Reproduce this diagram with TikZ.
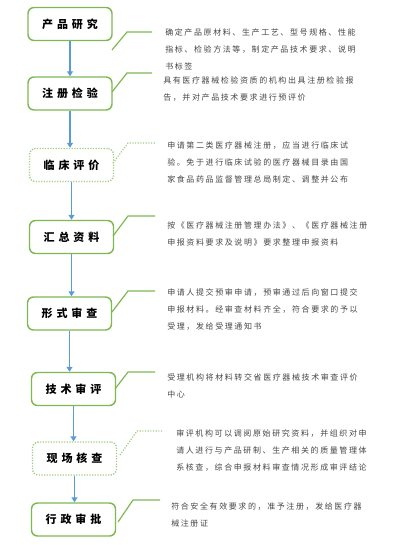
\documentclass[tikz,border=0pt]{standalone}
\usepackage{fontspec}
\usetikzlibrary{arrows.meta}
\newfontfamily\notefont[LetterSpace=20]{Noto Sans CJK SC}
\newfontfamily\stagefont[LetterSpace=36]{Noto Sans CJK SC}
\definecolor{boxgreen}{RGB}{125,185,80}
\definecolor{dotgreen}{RGB}{160,205,130}
\definecolor{arrowblue}{RGB}{91,155,213}
\definecolor{notegray}{RGB}{70,70,70}
\tikzset{
  stage/.style={draw=boxgreen, line width=1.1pt, rounded corners=4.5pt,
    minimum width=63pt, minimum height=24.75pt,
    font=\stagefont\bfseries\fontsize{8.25}{10}\selectfont},
  checkstage/.style={stage, draw=dotgreen, dash pattern=on 0.9pt off 1.1pt},
  note/.style={anchor=north west, inner sep=0pt, align=left, text=notegray,
    font=\notefont\fontsize{6}{12.75}\selectfont},
  callout/.style={draw=boxgreen, line width=0.9pt},
  dotcallout/.style={draw=dotgreen, line width=0.9pt, dash pattern=on 0.9pt off 1.1pt},
  flow/.style={draw=arrowblue, line width=1.1pt, -{Triangle[width=4.5pt,length=3.75pt]}}
}
\begin{document}
\begin{tikzpicture}[x=0.75pt, y=-0.75pt]
\useasboundingbox (0,0) rectangle (401,545);

% stages
\node[stage] (s1) at (70,24) {产品研究};
\node[stage] (s2) at (70,93.5) {注册检验};
\node[checkstage] (s3) at (71.5,165) {临床评价};
\node[stage] (s4) at (71.5,237) {汇总资料};
\node[stage] (s5) at (69.5,313.5) {形式审查};
\node[stage] (s6) at (73.5,389) {技术审评};
\node[checkstage] (s7) at (74.5,458.5) {现场核查};
\node[stage] (s8) at (73.5,519.5) {行政审批};

% flow
\draw[flow] (s1.south) -- (s1.south |- s2.north);
\draw[flow] (s2.south) -- (s2.south |- s3.north);
\draw[flow] (s3.south) -- (s3.south |- s4.north);
\draw[flow] (s4.south) -- (s4.south |- s5.north);
\draw[flow] (s5.south) -- (s5.south |- s6.north);
\draw[flow] (s6.south) -- (s6.south |- s7.north);
\draw[flow] (s7.south) -- (s7.south |- s8.north);

% notes
\node[note] (n1) at (165,28) {确定产品原材料、生产工艺、型号规格、性能\\指标、检验方法等，制定产品技术要求、说明\\书标签};
\node[note] (n2) at (163,76) {具有医疗器械检验资质的机构出具注册检验报\\告，并对产品技术要求进行预评价};
\node[note] (n3) at (167,141) {申请第二类医疗器械注册，应当进行临床试\\验。免于进行临床试验的医疗器械目录由国\\家食品药品监督管理总局制定、调整并公布};
\node[note] (n4) at (167,221) {按《医疗器械注册管理办法》、《医疗器械注册\\申报资料要求及说明》要求整理申报资料};
\node[note] (n5) at (167,288) {申请人提交预审申请，预审通过后向窗口提交\\申报材料。经审查材料齐全，符合要求的予以\\受理，发给受理通知书};
\node[note] (n6) at (167,373) {受理机构将材料转交省医疗器械技术审查评价\\中心};
\node[note] (n7) at (176,429) {审评机构可以调阅原始研究资料，并组织对申\\请人进行与产品研制、生产相关的质量管理体\\系核查，综合申报材料审查情况形成审评结论};
\node[note] (n8) at (171,502) {符合安全有效要求的，准予注册，发给医疗器\\械注册证};

% callouts
\coordinate (p1) at (112,50);  \coordinate (q1) at (127,32);  \coordinate (r1) at (152,32);
\coordinate (p2) at (112,92);  \coordinate (q2) at (127,73);  \coordinate (r2) at (152,73);
\coordinate (p3) at (113,163); \coordinate (q3) at (128,143); \coordinate (r3) at (155,143);
\coordinate (p4) at (113,236); \coordinate (q4) at (128,216); \coordinate (r4) at (155,216);
\coordinate (p5) at (112,312); \coordinate (q5) at (128,291); \coordinate (r5) at (155,291);
\coordinate (p6) at (115,389); \coordinate (q6) at (128,372); \coordinate (r6) at (155,372);
\coordinate (p7) at (120,455); \coordinate (q7) at (137,431); \coordinate (r7) at (163,431);
\coordinate (p8) at (118,522); \coordinate (q8) at (133,500); \coordinate (r8) at (160,500);

\draw[callout] (p1) -- (q1) -- (r1);
\draw[callout] (p2) -- (q2) -- (r2);
\draw[dotcallout] (p3) -- (q3) -- (r3);
\draw[callout] (p4) -- (q4) -- (r4);
\draw[callout] (p5) -- (q5) -- (r5);
\draw[callout] (p6) -- (q6) -- (r6);
\draw[dotcallout] (p7) -- (q7) -- (r7);
\draw[callout] (p8) -- (q8) -- (r8);
\end{tikzpicture}
\end{document}
